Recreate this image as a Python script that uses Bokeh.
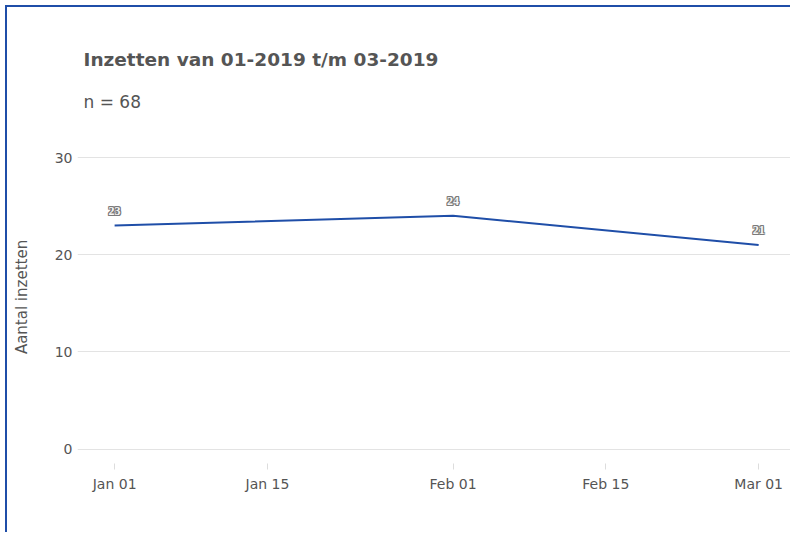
from datetime import datetime, timedelta
from bokeh.plotting import figure
from bokeh.models import (ColumnDataSource, Range1d, FixedTicker, DatetimeTickFormatter,
                          LabelSet, Title, InlineStyleSheet)
from bokeh.embed import file_html
from bokeh.resources import INLINE

# ---- data ----
dates = ["2019-01-01", "2019-02-01", "2019-03-01"]
counts = [23, 24, 21]
tick_dates = ["2019-01-01", "2019-01-15", "2019-02-01", "2019-02-15", "2019-03-01"]
y_ticks = [0, 10, 20, 30]
title_text = "Inzetten van 01-2019 t/m 03-2019"
subtitle_text = "n = %d" % sum(counts)
y_label = "Aantal inzetten"

FONT = "DejaVu Sans"
TEXT = "#555555"
BLUE = "#1f4ea8"

def to_ms(s):
    return datetime.strptime(s, "%Y-%m-%d").timestamp() * 1000.0

xs = [datetime.strptime(d, "%Y-%m-%d") for d in dates]
src = ColumnDataSource(dict(x=xs, y=counts, lbl=[str(c) for c in counts]))

# page origin of the canvas content is (7, 7) because of margin + border
sheet = InlineStyleSheet(css=":host { margin-left: 5px; margin-top: 5px; "
                             "border-left: 2px solid %s; border-top: 2px solid %s; }" % (BLUE, BLUE))

p = figure(width=785, height=527, x_axis_type="datetime",
           x_range=Range1d(min(xs) - timedelta(days=3.4), max(xs) + timedelta(days=3.1)),
           y_range=Range1d(-1.49, 32.78),
           output_backend="svg", toolbar_location=None,
           min_border_left=70, min_border_right=0, min_border_top=123,
           min_border_bottom=71,
           stylesheets=[sheet])
p.outline_line_color = None
p.background_fill_color = "white"
p.border_fill_color = "white"

# titles (subtitle first: it sits closest to the frame)
p.add_layout(Title(text=subtitle_text, align="left", offset=6, standoff=37,
                   text_font=FONT, text_font_size="17px", text_font_style="normal",
                   text_color=TEXT), "above")
p.add_layout(Title(text=title_text, align="left", offset=6, standoff=4,
                   text_font=FONT, text_font_size="18.5px", text_font_style="bold",
                   text_color=TEXT), "above")

# grid
p.xgrid.grid_line_color = None
p.ygrid.grid_line_color = "#e3e3e3"
p.ygrid.grid_line_width = 1

# y axis
p.yaxis.ticker = FixedTicker(ticks=y_ticks)
p.yaxis.axis_line_color = None
p.yaxis.major_tick_line_color = None
p.yaxis.minor_tick_line_color = None
p.yaxis.major_tick_in = 0
p.yaxis.major_tick_out = 0
p.yaxis.major_label_standoff = 5
p.yaxis.major_label_text_font = FONT
p.yaxis.major_label_text_font_size = "14px"
p.yaxis.major_label_text_color = TEXT
p.yaxis.axis_label = y_label
p.yaxis.axis_label_text_font = FONT
p.yaxis.axis_label_text_font_size = "15px"
p.yaxis.axis_label_text_font_style = "normal"
p.yaxis.axis_label_text_color = TEXT
p.yaxis.axis_label_standoff = 21

# x axis
p.xaxis.ticker = FixedTicker(ticks=[to_ms(t) for t in tick_dates])
p.xaxis.formatter = DatetimeTickFormatter(days="%b %d", months="%b %d")
p.xaxis.axis_line_color = None
p.xaxis.major_tick_line_color = "#dddddd"
p.xaxis.major_tick_in = 0
p.xaxis.major_tick_out = 6
p.xaxis.minor_tick_line_color = None
p.xaxis.major_label_standoff = 6
p.xaxis.major_label_text_font = FONT
p.xaxis.major_label_text_font_size = "14px"
p.xaxis.major_label_text_color = TEXT

# line
p.line("x", "y", source=src, line_color=BLUE, line_width=2)

# outlined value labels
for dx, dy in [(-1, 0), (1, 0), (0, -1), (0, 1), (-1, -1), (1, 1), (-1, 1), (1, -1)]:
    p.add_layout(LabelSet(x="x", y="y", text="lbl", source=src, x_offset=dx, y_offset=15 + dy,
                          text_align="center", text_baseline="middle",
                          text_font=FONT, text_font_size="12px", text_font_style="bold",
                          text_color="#7a7a7a"))
p.add_layout(LabelSet(x="x", y="y", text="lbl", source=src, x_offset=0, y_offset=15,
                      text_align="center", text_baseline="middle",
                      text_font=FONT, text_font_size="12px", text_font_style="bold",
                      text_color="#f6f6f6"))

open("out.html", "w").write(file_html(p, INLINE))
